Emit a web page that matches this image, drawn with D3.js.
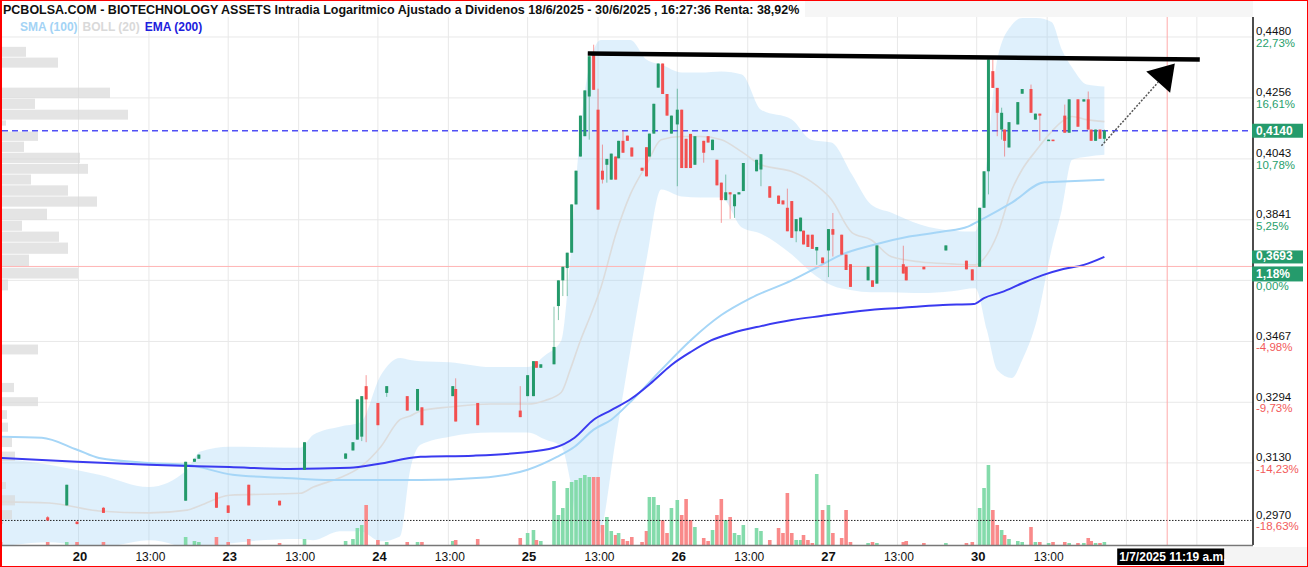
<!DOCTYPE html>
<html>
<head>
<meta charset="utf-8">
<script src="https://cdn.jsdelivr.net/npm/d3@7"></script>
<style>
  body { margin: 0; background: #fff; }
  svg { display: block; font-family: "Liberation Sans", Arial, sans-serif; }
</style>
</head>
<body>
<svg id="chart" width="1308" height="567"></svg>
<script>
// ---- data ----
const dayKeys = ["19", "20", "23", "24", "25", "26", "27", "30", "01"];
const dayLabels = ["20", "23", "24", "25", "26", "27", "30", "1"];

// [time, open, high, low, close, volume]
const candles = [
  ["19 13:05", .2979, .2981, .2972, .2973, 3000],
  ["19 15:45", .2990, .2993, .2981, .2982, 3000],
  ["19 16:50", .3020, .3073, .3020, .3073, 3000],
  ["19 17:25", .2979, .2980, .2972, .2973, 3000],
  ["20 10:25", .3014, .3016, .3001, .3001, 3000],
  ["20 15:05", .3032, .3133, .3032, .3133, 8000],
  ["20 15:35", .3133, .3141, .3133, .3141, 4000],
  ["20 15:50", .3141, .3152, .3141, .3152, 3000],
  ["20 16:50", .3053, .3053, .3014, .3014, 8000],
  ["20 17:30", .3020, .3020, .3001, .3001, 3000],
  ["23 10:10", .3073, .3073, .3020, .3020, 6000],
  ["23 11:55", .3032, .3032, .3020, .3020, 2000],
  ["23 13:20", .3112, .3185, .3112, .3185, 6000],
  ["23 15:40", .3141, .3155, .3141, .3155, 4000],
  ["23 16:05", .3163, .3185, .3163, .3185, 6000],
  ["23 16:20", .3192, .3302, .3192, .3302, 17000],
  ["23 16:35", .3200, .3311, .3188, .3311, 20000],
  ["23 16:50", .3339, .3370, .3185, .3302, 40000],
  ["24 09:00", .3292, .3292, .3231, .3231, 5000],
  ["24 09:30", .3320, .3339, .3309, .3339, 3000],
  ["24 10:40", .3311, .3311, .3271, .3271, 3000],
  ["24 11:15", .3271, .3331, .3271, .3331, 3000],
  ["24 11:30", .3280, .3280, .3231, .3231, 3000],
  ["24 13:15", .3311, .3339, .3311, .3339, 4000],
  ["24 13:25", .3331, .3361, .3241, .3241, 5000],
  ["24 14:40", .3292, .3292, .3231, .3231, 6000],
  ["24 17:05", .3271, .3339, .3253, .3253, 7000],
  ["25 09:00", .3311, .3370, .3311, .3370, 12000],
  ["25 09:20", .3311, .3410, .3311, .3410, 15000],
  ["25 09:30", .3410, .3410, .3391, .3391, 5000],
  ["25 09:45", .3391, .3401, .3391, .3401, 4000],
  ["25 10:30", .3401, .3570, .3401, .3451, 64000],
  ["25 10:45", .3572, .3650, .3530, .3650, 30000],
  ["25 11:00", .3650, .3692, .3602, .3692, 37000],
  ["25 11:15", .3688, .3736, .3602, .3736, 57000],
  ["25 11:30", .3736, .3891, .3736, .3891, 63000],
  ["25 11:45", .3891, .4003, .3891, .4003, 65000],
  ["25 12:00", .4051, .4193, .4051, .4193, 67000],
  ["25 12:15", .4121, .4283, .4121, .4283, 70000],
  ["25 12:30", .4261, .4408, .4109, .4408, 68000],
  ["25 12:45", .4421, .4451, .4285, .4285, 68000],
  ["25 13:00", .4214, .4289, .3874, .3874, 68000],
  ["25 13:15", .4003, .4092, .3960, .3973, 20000],
  ["25 13:30", .4023, .4043, .3963, .4043, 28000],
  ["25 13:45", .3973, .4061, .3973, .4061, 14000],
  ["25 14:00", .4051, .4051, .3973, .3973, 10000],
  ["25 14:10", .4045, .4105, .4045, .4105, 12000],
  ["25 14:25", .4105, .4142, .4064, .4064, 6000],
  ["25 14:40", .4123, .4123, .4105, .4105, 4000],
  ["25 14:55", .4082, .4082, .4051, .4051, 8000],
  ["25 15:30", .4013, .4013, .4003, .4003, 3000],
  ["25 15:45", .4083, .4083, .3984, .3984, 14000],
  ["25 15:55", .4051, .4130, .4051, .4130, 48000],
  ["25 16:10", .4130, .4235, .4130, .4235, 48000],
  ["25 16:25", .4293, .4381, .4293, .4381, 40000],
  ["25 16:40", .4381, .4381, .4270, .4270, 25000],
  ["25 16:55", .4270, .4270, .4193, .4193, 12000],
  ["25 17:10", .4130, .4193, .4130, .4193, 37000],
  ["26 09:00", .4162, .4289, .3951, .4214, 45000],
  ["26 09:15", .4214, .4214, .4012, .4012, 30000],
  ["26 09:30", .4112, .4112, .4012, .4012, 46000],
  ["26 09:45", .4129, .4129, .4012, .4012, 25000],
  ["26 10:00", .4023, .4121, .4023, .4121, 18000],
  ["26 10:30", .4105, .4105, .4030, .4064, 7000],
  ["26 10:45", .4121, .4121, .4099, .4099, 4000],
  ["26 11:00", .4073, .4109, .4073, .4109, 15000],
  ["26 11:15", .4040, .4040, .3954, .3954, 30000],
  ["26 11:30", .3963, .3963, .3831, .3905, 46000],
  ["26 11:45", .3905, .3990, .3905, .3931, 25000],
  ["26 12:00", .3931, .3931, .3844, .3924, 28000],
  ["26 12:15", .3885, .3924, .3847, .3924, 12000],
  ["26 12:30", .3924, .3931, .3924, .3931, 10000],
  ["26 12:45", .3935, .4029, .3935, .4029, 20000],
  ["26 13:30", .4001, .4040, .4001, .4040, 17000],
  ["26 13:45", .4007, .4059, .3951, .4059, 14000],
  ["26 14:15", .3951, .3951, .3913, .3913, 5000],
  ["26 14:45", .3920, .3920, .3893, .3893, 17000],
  ["26 15:00", .3904, .3904, .3891, .3891, 12000],
  ["26 15:15", .3880, .3943, .3804, .3804, 52000],
  ["26 15:30", .3902, .3902, .3783, .3783, 12000],
  ["26 15:45", .3804, .3843, .3769, .3843, 5000],
  ["26 16:00", .3804, .3848, .3804, .3848, 5000],
  ["26 16:10", .3806, .3806, .3762, .3762, 10000],
  ["26 16:25", .3793, .3793, .3754, .3754, 5000],
  ["26 16:40", .3793, .3793, .3748, .3748, 2000],
  ["26 16:55", .3743, .3754, .3698, .3754, 71000],
  ["26 17:15", .3721, .3721, .3703, .3703, 35000],
  ["27 09:05", .3743, .3811, .3660, .3811, 40000],
  ["27 09:20", .3811, .3863, .3724, .3793, 12000],
  ["27 09:50", .3793, .3793, .3730, .3730, 7000],
  ["27 10:05", .3730, .3730, .3682, .3682, 35000],
  ["27 10:20", .3700, .3700, .3630, .3630, 3000],
  ["27 11:20", .3650, .3692, .3650, .3692, 2000],
  ["27 11:35", .3650, .3650, .3630, .3630, 3000],
  ["27 11:50", .3640, .3759, .3640, .3759, 2000],
  ["27 13:20", .3700, .3758, .3671, .3671, 3000],
  ["27 13:30", .3692, .3692, .3650, .3650, 4000],
  ["27 14:30", .3692, .3692, .3684, .3684, 2000],
  ["27 15:45", .3743, .3759, .3743, .3759, 2000],
  ["27 16:55", .3711, .3711, .3684, .3684, 2000],
  ["27 17:15", .3684, .3684, .3650, .3650, 3000],
  ["30 09:10", .3692, .3880, .3692, .3880, 37000],
  ["30 09:25", .3880, .4001, .3880, .4001, 57000],
  ["30 09:40", .4001, .4396, .3924, .4396, 80000],
  ["30 09:55", .4353, .4396, .4292, .4292, 35000],
  ["30 10:10", .4292, .4292, .4121, .4203, 20000],
  ["30 10:25", .4144, .4221, .4109, .4203, 15000],
  ["30 10:35", .4144, .4144, .4051, .4105, 10000],
  ["30 10:50", .4082, .4170, .4082, .4170, 6000],
  ["30 11:20", .4162, .4241, .4162, .4241, 4000],
  ["30 11:35", .4271, .4288, .4271, .4288, 3000],
  ["30 12:05", .4288, .4304, .4203, .4203, 18000],
  ["30 12:20", .4179, .4200, .4179, .4200, 3000],
  ["30 12:35", .4200, .4200, .4105, .4193, 3000],
  ["30 13:05", .4106, .4109, .4106, .4109, 2000],
  ["30 13:20", .4109, .4109, .4104, .4104, 3000],
  ["30 14:00", .4193, .4232, .4133, .4133, 3000],
  ["30 14:15", .4133, .4251, .4133, .4251, 2000],
  ["30 14:45", .4251, .4251, .4154, .4154, 2000],
  ["30 15:05", .4243, .4251, .4243, .4251, 2000],
  ["30 15:20", .4251, .4279, .4144, .4144, 7000],
  ["30 15:30", .4144, .4144, .4105, .4105, 4000],
  ["30 15:45", .4105, .4144, .4105, .4144, 2000],
  ["30 16:00", .4144, .4144, .4112, .4112, 2000],
  ["30 16:15", .4112, .4144, .4100, .4140, 3000]
];

const smaTimes = ["19 13:05", "19 15:25", "19 17:25", "20 10:10", "20 13:00", "20 15:10", "23 09:15", "23 12:05",
  "23 14:55", "23 16:30", "24 11:25", "24 14:50", "25 09:00", "25 10:40", "25 11:40", "25 12:45", "25 13:45",
  "25 14:55", "25 16:35", "26 09:45", "26 11:30", "26 13:10", "26 15:30", "26 17:00", "27 09:50", "27 11:40",
  "27 13:40", "27 15:35", "27 17:00", "30 09:15", "30 11:00", "30 12:50", "30 13:55", "30 16:15"];
const smaValues = [.3200, .3197, .3165, .3143, .3130, .3125, .3099, .3091, .3085, .3085, .3085, .3091, .3112,
  .3146, .3173, .3219, .3246, .3299, .3385, .3470, .3545, .3596, .3650, .3692, .3730, .3761, .3787, .3803, .3819,
  .3841, .3897, .3964, .3967, .3973];

const emaTimes = ["19 13:05", "19 17:25", "20 13:00", "23 09:05", "23 12:30", "23 15:55", "24 09:00", "24 11:25",
  "24 14:25", "24 17:05", "25 10:30", "25 11:40", "25 12:45", "25 13:45", "25 14:55", "25 16:05", "25 17:10",
  "26 09:45", "26 10:55", "26 12:05", "26 13:45", "26 15:30", "26 17:10", "27 10:25", "27 12:05", "27 13:50",
  "27 15:35", "27 17:20", "30 09:25", "30 10:25", "30 11:35", "30 12:45", "30 13:55", "30 15:05", "30 16:15"];
const emaValues = [.3143, .3133, .3125, .3119, .3114, .3117, .3127, .3146, .3149, .3157, .3170, .3197, .3246,
  .3272, .3305, .3351, .3399, .3436, .3470, .3491, .3512, .3530, .3542, .3554, .3563, .3569, .3575, .3578,
  .3596, .3614, .3641, .3666, .3685, .3698, .3723];

const bollTimes = ["19 13:05", "19 15:50", "20 10:10", "20 13:00", "20 15:10", "20 15:55", "23 09:05", "23 13:05",
  "23 13:50", "23 15:20", "23 16:30", "24 09:10", "24 10:15", "24 10:50", "24 11:25", "24 13:05", "24 15:25",
  "25 09:00", "25 10:00", "25 10:55", "25 11:25", "25 12:00", "25 12:35", "25 13:10", "25 14:00", "25 14:50",
  "25 15:45", "25 16:35", "26 09:15", "26 10:20", "26 11:30", "26 12:40", "26 13:45", "26 15:30", "26 16:35",
  "27 09:15", "27 10:25", "27 11:30", "27 12:40", "27 14:20", "27 16:05", "27 17:25", "30 09:35", "30 10:10",
  "30 11:00", "30 11:35", "30 12:25", "30 13:15", "30 13:50", "30 14:25", "30 15:15", "30 16:15"];
const bollUpper = [.3143, .3125, .3099, .3067, .3112, .3160, .3173, .3170, .3205, .3227, .3238, .3370, .3419,
  .3413, .3410, .3407, .3393, .3393, .3427, .3470, .3714, .4144, .4396, .4469, .4469, .4469, .4396, .4377, .4348,
  .4348, .4352, .4341, .4214, .4179, .4109, .4099, .3990, .3891, .3864, .3825, .3806, .3803, .4040, .4396, .4526,
  .4552, .4552, .4537, .4432, .4366, .4304, .4297];
const bollMid = [.3029, .3026, .3006, .3001, .3008, .3020, .3046, .3051, .3067, .3091, .3119, .3173, .3246, .3256,
  .3270, .3281, .3289, .3289, .3299, .3322, .3385, .3470, .3545, .3629, .3793, .3924, .4023, .4109, .4120, .4120,
  .4109, .4067, .4023, .4000, .3967, .3907, .3800, .3777, .3723, .3707, .3701, .3698, .3730, .3793, .3940, .4007,
  .4075, .4137, .4172, .4190, .4179, .4172];
const bollLower = [.2917, .2928, .2915, .2933, .2907, .2887, .2925, .2936, .2933, .2955, .2955, .2930, .2942,
  .3112, .3178, .3200, .3211, .3211, .3192, .3173, .3085, .2920, .2914, .2955, .3192, .3441, .3714, .3940, .3917,
  .3914, .3914, .3816, .3796, .3730, .3676, .3635, .3620, .3614, .3614, .3611, .3617, .3626, .3500, .3385, .3362,
  .3413, .3530, .3746, .3874, .4040, .4050, .4057];

// volume profile on the left
const profileHigh = [.4443, .4403, .4293, .4253, .4214, .4176, .4137, .4102, .4064, .4026, .3990, .3954, .3917,
  .3877, .3838, .3803, .3768, .3730, .3689, .3653, .3458, .3348, .3308, .3272, .3238, .3197, .3160, .3080, .3046, .3008];
const profileLow = [.4403, .4363, .4253, .4214, .4176, .4155, .4102, .4064, .4026, .3990, .3954, .3917, .3881,
  .3838, .3803, .3768, .3730, .3692, .3653, .3617, .3427, .3320, .3281, .3246, .3211, .3170, .3133, .3060, .3018, .2983];
const profileVol = [24, 56, 108, 33, 126, 4, 36, 22, 78, 86, 29, 66, 95, 45, 20, 57, 66, 27, 76, 6, 36, 12, 36, 5,
  6, 10, 13, 4, 13, 10];

const yTicks = [0.4480, 0.4256, 0.4043, 0.3841, 0.3650, 0.3467, 0.3294, 0.3130];
const yTickPct = ["22,73%", "16,61%", "10,78%", "5,25%", "0,00%", "-4,98%", "-9,73%", "-14,23%"];

const lastPrice = 0.4140;
const refPrice = 0.3693, refPct = "1,18%";
const minLine = 0.2982, minLabel = "0,2970", minPct = "-18,63%";
const cursorTime = "01 11:19", cursorLabel = "1/7/2025 11:19 a.m.";
const trendLine = [["25 12:25", 0.4418], ["01 13:10", 0.4396]];
const arrowLine = [["30 16:05", 0.4088], ["01 11:45", 0.4381]];

const title = "PCBOLSA.COM - BIOTECHNOLOGY ASSETS Intradia Logaritmico Ajustado a Dividenos 18/6/2025 - 30/6/2025 , 16:27:36 Renta: 38,92%";
const legend = [["SMA (100)", "#a3d3f5"], ["BOLL (20)", "#d9d9d9"], ["EMA (200)", "#2020dd"]];

// ---- layout ----
const plot = {l: 2, r: 1253, t: 17, b: 545};
const green = "#23996a", red = "#f24f4f";

function sessionPos(s) {
  const [d, hm] = s.split(" ");
  const [h, m] = hm.split(":").map(Number);
  return dayKeys.indexOf(d) + (h * 60 + m - 540) / 510;
}

const x = d3.scaleLinear().domain([0.4890, 8.8457]).range([plot.l, plot.r]);
const y = d3.scaleLog().domain([0.2921, 0.4556]).range([plot.b, plot.t]);
const yVol = d3.scaleLinear().domain([0, 85000]).range([plot.b, 460]);
const xProf = d3.scaleLinear().domain([0, 130]).range([plot.l, plot.l + 130]);
const fmtPrice = v => d3.format(".4f")(v).replace(".", ",");

const svg = d3.select("#chart");
svg.append("rect").attr("width", 1308).attr("height", 567).attr("fill", "#fff");
svg.append("rect").attr("x", 805).attr("y", 0).attr("width", plot.r - 805).attr("height", plot.t).attr("fill", "#f6f6f6");
svg.append("rect").attr("x", 1225).attr("y", 547).attr("width", 82).attr("height", 19).attr("fill", "#f4f4f4");

svg.append("clipPath").attr("id", "clip")
  .append("rect").attr("x", plot.l).attr("y", plot.t)
  .attr("width", plot.r - plot.l).attr("height", plot.b - plot.t);

const grid = svg.append("g");
const chart = svg.append("g").attr("clip-path", "url(#clip)");

// gridlines
const xTickPos = [];
d3.range(1, 9).forEach(d => {
  xTickPos.push({v: d, label: dayLabels[d - 1], bold: true});
  xTickPos.push({v: d + 240 / 510, label: "13:00", bold: false});
});
grid.selectAll(".vg").data(xTickPos).join("line")
  .attr("x1", d => x(d.v)).attr("x2", d => x(d.v))
  .attr("y1", plot.t).attr("y2", plot.b)
  .attr("stroke", "#e8e8e8");
grid.selectAll(".hg").data(yTicks).join("line")
  .attr("x1", plot.l).attr("x2", plot.r)
  .attr("y1", d => y(d)).attr("y2", d => y(d))
  .attr("stroke", "#e8e8e8");

// bollinger band
const boll = bollTimes.map((t, i) => ({t: sessionPos(t), u: bollUpper[i], m: bollMid[i], l: bollLower[i]}));
chart.append("path").datum(boll)
  .attr("d", d3.area().x(d => x(d.t)).y0(d => y(d.l)).y1(d => y(d.u)).curve(d3.curveMonotoneX))
  .attr("fill", "rgba(150,205,245,0.3)");

// volume profile
chart.selectAll(".prof").data(profileVol).join("rect")
  .attr("x", plot.l)
  .attr("y", (d, i) => y(profileHigh[i]))
  .attr("width", d => xProf(d) - plot.l)
  .attr("height", (d, i) => Math.max(1, y(profileLow[i]) - y(profileHigh[i]) - 0.8))
  .attr("fill", "#d9d9d9").attr("opacity", 0.7);

// volume bars
chart.selectAll(".vol").data(candles).join("rect")
  .attr("x", d => x(sessionPos(d[0])) - 1.8)
  .attr("width", 3.6)
  .attr("y", d => yVol(d[5]))
  .attr("height", d => plot.b - yVol(d[5]))
  .attr("fill", d => d[4] >= d[1] ? "#84dbab" : "#f98a8a");

// min dotted line
chart.append("line")
  .attr("x1", plot.l).attr("x2", plot.r).attr("y1", y(minLine)).attr("y2", y(minLine))
  .attr("stroke", "#222").attr("stroke-dasharray", "1.5,1.5");

// boll middle, sma, ema
const lineGen = d3.line().x(d => x(d[0])).y(d => y(d[1])).curve(d3.curveMonotoneX);
chart.append("path").datum(boll.map(d => [d.t, d.m]))
  .attr("d", lineGen).attr("fill", "none").attr("stroke", "#dcdcdc").attr("stroke-width", 1.6);
chart.append("path").datum(smaTimes.map((t, i) => [sessionPos(t), smaValues[i]]))
  .attr("d", lineGen).attr("fill", "none").attr("stroke", "#a6d6f7").attr("stroke-width", 2);
chart.append("path").datum(emaTimes.map((t, i) => [sessionPos(t), emaValues[i]]))
  .attr("d", lineGen).attr("fill", "none").attr("stroke", "#3a3af0").attr("stroke-width", 2);

// reference lines
chart.append("line")
  .attr("x1", plot.l).attr("x2", plot.r).attr("y1", y(refPrice)).attr("y2", y(refPrice))
  .attr("stroke", "#ffb4b4");
chart.append("line")
  .attr("x1", plot.l).attr("x2", plot.r).attr("y1", y(lastPrice)).attr("y2", y(lastPrice))
  .attr("stroke", "#5050f5").attr("stroke-width", 1.5).attr("stroke-dasharray", "6,4");

// candles
const candleG = chart.append("g");
candleG.selectAll(".wick").data(candles).join("line")
  .attr("x1", d => x(sessionPos(d[0]))).attr("x2", d => x(sessionPos(d[0])))
  .attr("y1", d => y(d[2])).attr("y2", d => y(d[3]))
  .attr("stroke", d => d[4] >= d[1] ? green : red).attr("stroke-opacity", 0.55);
candleG.selectAll(".body").data(candles).join("rect")
  .attr("x", d => x(sessionPos(d[0])) - 1.5)
  .attr("width", 3)
  .attr("y", d => y(Math.max(d[1], d[4])))
  .attr("height", d => Math.max(1.5, y(Math.min(d[1], d[4])) - y(Math.max(d[1], d[4]))))
  .attr("fill", d => d[4] >= d[1] ? green : red);

// cursor
const xc = x(sessionPos(cursorTime));
svg.append("line").attr("x1", xc).attr("x2", xc).attr("y1", plot.t).attr("y2", plot.b)
  .attr("stroke", "#ffaaaa");

// trend line
const tl = trendLine.map(d => [x(sessionPos(d[0])), y(d[1])]);
svg.append("line")
  .attr("x1", tl[0][0]).attr("y1", tl[0][1]).attr("x2", tl[1][0]).attr("y2", tl[1][1])
  .attr("stroke", "#000").attr("stroke-width", 4.5);

// dotted arrow
const al = arrowLine.map(d => [x(sessionPos(d[0])), y(d[1])]);
const dx = al[1][0] - al[0][0], dy = al[1][1] - al[0][1];
const len = Math.hypot(dx, dy), ux = dx / len, uy = dy / len;
const headLen = 25, headW = 16;
const bx = al[1][0] - ux * headLen, by = al[1][1] - uy * headLen;
svg.append("line")
  .attr("x1", al[0][0]).attr("y1", al[0][1]).attr("x2", bx).attr("y2", by)
  .attr("stroke", "#555").attr("stroke-width", 1.5).attr("stroke-dasharray", "2,1.5");
svg.append("path")
  .attr("d", `M${al[1][0]},${al[1][1]}L${bx - uy * headW},${by + ux * headW}L${bx + uy * headW},${by - ux * headW}Z`)
  .attr("fill", "#000");

// axes
svg.append("line").attr("x1", plot.r).attr("x2", plot.r).attr("y1", plot.t).attr("y2", plot.b)
  .attr("stroke", "#111").attr("stroke-width", 1.5);
svg.append("line").attr("x1", 0).attr("x2", plot.r).attr("y1", plot.b + 0.5).attr("y2", plot.b + 0.5)
  .attr("stroke", "#777").attr("stroke-width", 1.5);

// right axis labels (the 0,3650 price sits under the 0,3693 box in the original)
const rl = svg.append("g").attr("font-size", 11.5);
yTicks.forEach((t, i) => {
  if (Math.abs(y(t) - y(refPrice)) > 16) {
    rl.append("text").attr("x", 1256).attr("y", y(t) - 1.5).attr("fill", "#111").text(fmtPrice(t));
  }
  rl.append("text").attr("x", 1256).attr("y", y(t) + 10)
    .attr("fill", yTickPct[i].startsWith("-") ? "#f25a5a" : "#27a06c").text(yTickPct[i]);
});
rl.append("text").attr("x", 1256).attr("y", y(minLine) - 1.5).attr("fill", "#111").text(minLabel);
rl.append("text").attr("x", 1256).attr("y", y(minLine) + 10).attr("fill", "#f25a5a").text(minPct);

function box(yTop, h, label) {
  rl.append("rect").attr("x", 1252).attr("y", yTop).attr("width", 51).attr("height", h).attr("fill", "#259b6c");
  rl.append("text").attr("x", 1256).attr("y", yTop + h - 3).attr("fill", "#fff")
    .attr("font-size", 12).attr("font-weight", "bold").text(label);
}
box(y(lastPrice) - 7, 14, fmtPrice(lastPrice));
box(y(refPrice) - 16, 13, fmtPrice(refPrice));
box(y(refPrice), 15, refPct);

// bottom axis labels
svg.append("g").selectAll("text").data(xTickPos.filter(d => x(d.v) < 1110)).join("text")
  .attr("x", d => x(d.v) + 1.5).attr("y", 561)
  .attr("text-anchor", "middle")
  .attr("font-size", d => d.bold ? 13 : 12)
  .attr("font-weight", d => d.bold ? "bold" : "normal")
  .attr("fill", "#111")
  .text(d => d.label);

// cursor date box
svg.append("rect").attr("x", xc - 50).attr("y", 548.5).attr("width", 107).attr("height", 16.5).attr("fill", "#000");
svg.append("text").attr("x", xc - 48).attr("y", 561).attr("font-size", 12).attr("font-weight", "bold")
  .attr("fill", "#fff").text(cursorLabel);

// title + legend
const tt = svg.append("text").attr("x", 3).attr("y", 13.5).attr("font-size", 12)
  .attr("font-weight", "bold").attr("fill", "#111").text(title);
const tw = tt.node().getComputedTextLength();
tt.attr("font-size", 12 * 797 / tw);

let lx = 20;
legend.forEach(([label, color]) => {
  const t = svg.append("text").attr("x", lx).attr("y", 31).attr("font-size", 12)
    .attr("font-weight", "bold").attr("fill", color).text(label);
  lx += t.node().getComputedTextLength() + 5;
});

// frame
svg.append("rect").attr("x", 0.5).attr("y", 0.5).attr("width", 1307).attr("height", 566)
  .attr("fill", "none").attr("stroke", "#ff0000");
svg.append("line").attr("x1", 1).attr("x2", 1).attr("y1", 0).attr("y2", 567)
  .attr("stroke", "#ff0000").attr("stroke-width", 2);
</script>
</body>
</html>
